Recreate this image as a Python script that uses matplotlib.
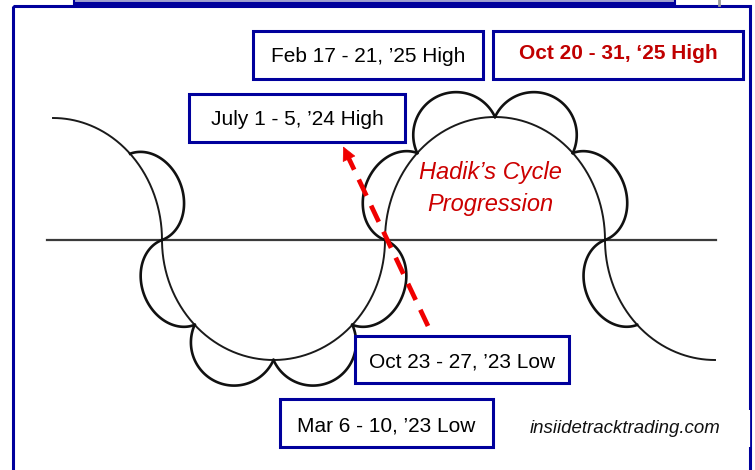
import numpy as np
import matplotlib.pyplot as plt
from matplotlib.patches import Rectangle, FancyArrowPatch

plt.rcParams['font.family'] = ['Liberation Sans', 'DejaVu Sans']

# cycle geometry, in pixels of the original 755x470 diagram
axis_y = 240
axis_x = [47, 716]

arc_cx = [53, 273.5, 495, 715]
arc_rx = [109, 111.5, 110, 110]
arc_ry = [122, 120, 123, 120]
arc_side = [-1, 1, -1, 1]          # -1 = above the line, 1 = below
arc_span = [(0, 90), (0, 180), (0, 180), (90, 180)]
arc_bumps = [
    [(0, 45)],
    [(0, 45), (45, 90), (90, 135), (135, 180)],
    [(0, 45), (45, 90), (90, 135), (135, 180)],
    [(135, 180)],
]

# labels
box_labels = ['Feb 17 - 21, ’25 High', 'Oct 20 - 31, ‘25 High', 'July 1 - 5, ’24 High',
              'Oct 23 - 27, ’23 Low', 'Mar 6 - 10, ’23 Low']
box_rect = [(253, 31, 483, 79), (493, 31, 743, 79), (189, 94, 405, 142),
            (355, 336, 569, 383), (280, 399, 493, 447)]
box_baseline = [62, 59, 125, 367, 431]
box_color = ['black', '#c00000', 'black', 'black', 'black']
box_weight = ['normal', 'bold', 'normal', 'normal', 'normal']

title_lines = ['Hadik’s Cycle', 'Progression']
title_baseline = [179, 211]
watermark = 'insiidetracktrading.com'

arrow_start = (428, 326)
arrow_tip = (342, 144)

navy = '#00009c'


def ell(i, th):
    t = np.radians(th)
    x = arc_cx[i] + arc_rx[i] * np.cos(t)
    y = axis_y + arc_side[i] * arc_ry[i] * np.sin(t)
    return np.array([x, y])


fig = plt.figure(figsize=(7.55, 4.70), dpi=100)
ax = fig.add_axes([0, 0, 1, 1])
ax.set_xlim(0, 755)
ax.set_ylim(470, 0)
ax.axis('off')

# outer frame and the edge of the box above it
ax.add_patch(Rectangle((13, 6), 737, 480, fill=False, edgecolor=navy, lw=2.2, clip_on=False))
ax.plot([74, 675], [0.6, 0.6], color='#a0a0d0', lw=1.5, solid_capstyle='butt')
ax.plot([74, 675], [3, 3], color=navy, lw=2.2, solid_capstyle='butt')
ax.plot([74, 74], [0, 4], color=navy, lw=1.5)
ax.plot([675, 675], [0, 4], color=navy, lw=1.5)
ax.plot([718.5, 718.5], [0, 5], color='#999999', lw=2)
ax.plot([748.6, 748.6], [410, 447], color='white', lw=1.6, solid_capstyle='butt')

# zero line
ax.plot(axis_x, [axis_y, axis_y], color='#3a3a3a', lw=1.6)

# big arcs and their scalloped sub-cycles
for i in range(len(arc_cx)):
    th = np.linspace(arc_span[i][0], arc_span[i][1], 200)
    pts = ell(i, th)
    ax.plot(pts[0], pts[1], color='#1a1a1a', lw=1.4)
    centre = np.array([arc_cx[i], axis_y])
    for th1, th2 in arc_bumps[i]:
        p1, p2 = ell(i, th1), ell(i, th2)
        m = (p1 + p2) / 2
        h = np.linalg.norm(p2 - p1) / 2
        u = (p2 - p1) / (2 * h)
        n = np.array([-u[1], u[0]])
        if np.dot(n, m - centre) < 0:
            n = -n
        k = 0.8 if th1 == 0 or th2 == 180 else 1.0
        t = np.linspace(0, np.pi, 100)
        bx = m[0] + h * np.cos(t) * u[0] + k * h * np.sin(t) * n[0]
        by = m[1] + h * np.cos(t) * u[1] + k * h * np.sin(t) * n[1]
        ax.plot(bx, by, color='#111111', lw=1.9)

# red dashed arrow
d = np.array(arrow_tip) - np.array(arrow_start)
d = d / np.linalg.norm(d)
head_base = np.array(arrow_tip) - 12 * d
ax.plot([arrow_start[0], head_base[0]], [arrow_start[1], head_base[1]],
        color='#f00000', lw=3.4, dashes=(3.8, 2.3))
ax.add_patch(FancyArrowPatch(tuple(head_base - 4 * d), arrow_tip, arrowstyle='-|>',
                             mutation_scale=23, color='#f00000', lw=0.5))

# date boxes
for lab, r, yb, c, w in zip(box_labels, box_rect, box_baseline, box_color, box_weight):
    x0, y0, x1, y1 = r
    ax.add_patch(Rectangle((x0, y0), x1 - x0, y1 - y0, facecolor='white',
                           edgecolor=navy, lw=2.2, zorder=5))
    ax.text((x0 + x1) / 2, yb, lab, ha='center', va='baseline', fontsize=15,
            color=c, fontweight=w, zorder=6)

for line, yb in zip(title_lines, title_baseline):
    ax.text(490, yb, line, ha='center', va='baseline', fontsize=17,
            color='#cc0000', style='italic')

ax.text(625, 433, watermark, ha='center', va='baseline', fontsize=13.4,
        color='#111111', style='italic')

fig.savefig('out.png', dpi=100)
